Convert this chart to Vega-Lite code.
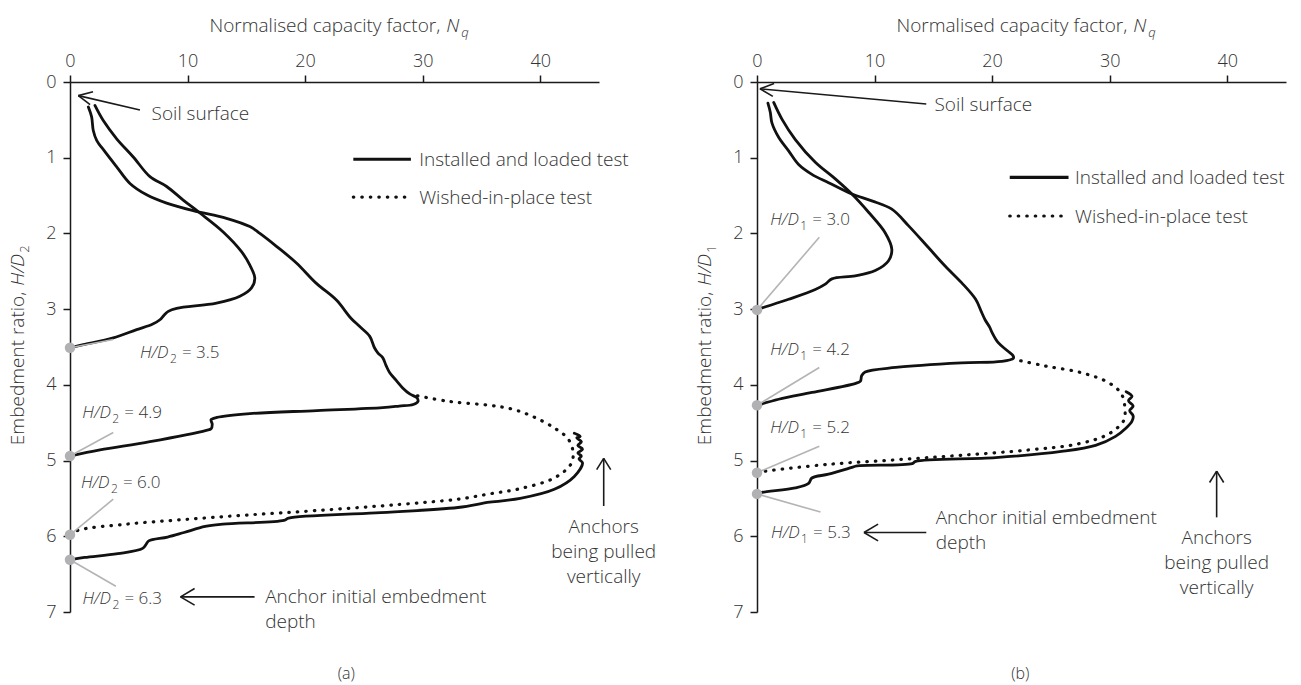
{
  "$schema": "https://vega.github.io/schema/vega-lite/v6.json",
  "background": "white",
  "padding": {"left": 8, "top": 16, "right": 5, "bottom": 5},
  "bounds": "flush",
  "spacing": 158,
  "config": {
    "view": {"stroke": null},
    "font": "Open Sans",
    "text": {"fontWeight": 300},
    "axis": {"labelFont": "Open Sans", "labelFontWeight": 300, "labelFontSize": 18, "labelColor": "#333333", "domainColor": "#1a1a1a", "tickColor": "#1a1a1a", "domainWidth": 1.5, "tickWidth": 1.5, "tickSize": 7, "grid": false, "labelFlush": false, "title": null}
  },
  "datasets": {
    "curves": [
      {"p":"a","s":"a35","d":0,"i":1,"x":0,"y":3.51},{"p":"a","s":"a35","d":0,"i":2,"x":1.13,"y":3.47},{"p":"a","s":"a35","d":0,"i":3,"x":3.68,"y":3.38},{"p":"a","s":"a35","d":0,"i":4,"x":5.67,"y":3.27},{"p":"a","s":"a35","d":0,"i":5,"x":7.0,"y":3.2},{"p":"a","s":"a35","d":0,"i":6,"x":7.65,"y":3.14},{"p":"a","s":"a35","d":0,"i":7,"x":8.0,"y":3.08},{"p":"a","s":"a35","d":0,"i":8,"x":8.36,"y":3.03},{"p":"a","s":"a35","d":0,"i":9,"x":9.07,"y":2.99},{"p":"a","s":"a35","d":0,"i":10,"x":12.46,"y":2.92},{"p":"a","s":"a35","d":0,"i":11,"x":14.45,"y":2.83},{"p":"a","s":"a35","d":0,"i":12,"x":15.44,"y":2.72},{"p":"a","s":"a35","d":0,"i":13,"x":15.72,"y":2.59},{"p":"a","s":"a35","d":0,"i":14,"x":15.3,"y":2.42},{"p":"a","s":"a35","d":0,"i":15,"x":14.59,"y":2.24},{"p":"a","s":"a35","d":0,"i":16,"x":13.03,"y":1.98},{"p":"a","s":"a35","d":0,"i":17,"x":11.05,"y":1.73},{"p":"a","s":"a35","d":0,"i":18,"x":9.63,"y":1.56},{"p":"a","s":"a35","d":0,"i":19,"x":8.22,"y":1.38},{"p":"a","s":"a35","d":0,"i":20,"x":6.8,"y":1.25},{"p":"a","s":"a35","d":0,"i":21,"x":5.38,"y":0.99},{"p":"a","s":"a35","d":0,"i":22,"x":3.97,"y":0.75},{"p":"a","s":"a35","d":0,"i":23,"x":2.83,"y":0.51},{"p":"a","s":"a35","d":0,"i":24,"x":2.12,"y":0.31},
      {"p":"a","s":"a49","d":0,"i":1,"x":0,"y":4.94},{"p":"a","s":"a49","d":0,"i":2,"x":2.55,"y":4.86},{"p":"a","s":"a49","d":0,"i":3,"x":6.8,"y":4.75},{"p":"a","s":"a49","d":0,"i":4,"x":11.6,"y":4.6},{"p":"a","s":"a49","d":0,"i":5,"x":12.0,"y":4.58},{"p":"a","s":"a49","d":0,"i":6,"x":12.1,"y":4.52},{"p":"a","s":"a49","d":0,"i":7,"x":12.0,"y":4.46},{"p":"a","s":"a49","d":0,"i":8,"x":12.5,"y":4.43},{"p":"a","s":"a49","d":0,"i":9,"x":15.3,"y":4.38},{"p":"a","s":"a49","d":0,"i":10,"x":21.0,"y":4.34},{"p":"a","s":"a49","d":0,"i":11,"x":26.6,"y":4.3},{"p":"a","s":"a49","d":0,"i":12,"x":28.0,"y":4.28},{"p":"a","s":"a49","d":0,"i":13,"x":29.2,"y":4.26},{"p":"a","s":"a49","d":0,"i":14,"x":29.6,"y":4.22},{"p":"a","s":"a49","d":0,"i":15,"x":29.5,"y":4.17},{"p":"a","s":"a49","d":0,"i":16,"x":28.9,"y":4.12},{"p":"a","s":"a49","d":0,"i":17,"x":28.3,"y":4.04},{"p":"a","s":"a49","d":0,"i":18,"x":27.8,"y":3.95},{"p":"a","s":"a49","d":0,"i":19,"x":27.2,"y":3.84},{"p":"a","s":"a49","d":0,"i":20,"x":26.9,"y":3.75},{"p":"a","s":"a49","d":0,"i":21,"x":26.6,"y":3.64},{"p":"a","s":"a49","d":0,"i":22,"x":26.2,"y":3.58},{"p":"a","s":"a49","d":0,"i":23,"x":25.9,"y":3.51},{"p":"a","s":"a49","d":0,"i":24,"x":25.5,"y":3.36},{"p":"a","s":"a49","d":0,"i":25,"x":24.65,"y":3.23},{"p":"a","s":"a49","d":0,"i":26,"x":23.9,"y":3.12},{"p":"a","s":"a49","d":0,"i":27,"x":22.66,"y":2.88},{"p":"a","s":"a49","d":0,"i":28,"x":20.96,"y":2.66},{"p":"a","s":"a49","d":0,"i":29,"x":19.26,"y":2.39},{"p":"a","s":"a49","d":0,"i":30,"x":17.56,"y":2.17},{"p":"a","s":"a49","d":0,"i":31,"x":16.15,"y":2.0},{"p":"a","s":"a49","d":0,"i":32,"x":15.3,"y":1.91},{"p":"a","s":"a49","d":0,"i":33,"x":13.31,"y":1.8},{"p":"a","s":"a49","d":0,"i":34,"x":10.48,"y":1.7},{"p":"a","s":"a49","d":0,"i":35,"x":8.22,"y":1.6},{"p":"a","s":"a49","d":0,"i":36,"x":6.52,"y":1.49},{"p":"a","s":"a49","d":0,"i":37,"x":5.1,"y":1.34},{"p":"a","s":"a49","d":0,"i":38,"x":3.97,"y":1.12},{"p":"a","s":"a49","d":0,"i":39,"x":2.97,"y":0.92},{"p":"a","s":"a49","d":0,"i":40,"x":2.27,"y":0.77},{"p":"a","s":"a49","d":0,"i":41,"x":1.98,"y":0.64},{"p":"a","s":"a49","d":0,"i":42,"x":1.84,"y":0.46},{"p":"a","s":"a49","d":0,"i":43,"x":1.56,"y":0.33},
      {"p":"a","s":"a60","d":1,"i":1,"x":0,"y":5.98},{"p":"a","s":"a60","d":1,"i":2,"x":0.7,"y":5.92},{"p":"a","s":"a60","d":1,"i":3,"x":4.8,"y":5.84},{"p":"a","s":"a60","d":1,"i":4,"x":9.6,"y":5.78},{"p":"a","s":"a60","d":1,"i":5,"x":15.0,"y":5.72},{"p":"a","s":"a60","d":1,"i":6,"x":21.0,"y":5.66},{"p":"a","s":"a60","d":1,"i":7,"x":28.0,"y":5.58},{"p":"a","s":"a60","d":1,"i":8,"x":33.0,"y":5.51},{"p":"a","s":"a60","d":1,"i":9,"x":35.7,"y":5.44},{"p":"a","s":"a60","d":1,"i":10,"x":38.3,"y":5.37},{"p":"a","s":"a60","d":1,"i":11,"x":41.2,"y":5.23},{"p":"a","s":"a60","d":1,"i":12,"x":42.6,"y":5.05},{"p":"a","s":"a60","d":1,"i":13,"x":42.8,"y":4.9},{"p":"a","s":"a60","d":1,"i":14,"x":42.4,"y":4.72},{"p":"a","s":"a60","d":1,"i":15,"x":41.2,"y":4.57},{"p":"a","s":"a60","d":1,"i":16,"x":39.4,"y":4.42},{"p":"a","s":"a60","d":1,"i":17,"x":37.6,"y":4.32},{"p":"a","s":"a60","d":1,"i":18,"x":35.7,"y":4.27},{"p":"a","s":"a60","d":1,"i":19,"x":32.3,"y":4.22},{"p":"a","s":"a60","d":1,"i":20,"x":29.4,"y":4.14},
      {"p":"a","s":"a63","d":0,"i":1,"x":0,"y":6.31},{"p":"a","s":"a63","d":0,"i":2,"x":1.24,"y":6.28},{"p":"a","s":"a63","d":0,"i":3,"x":4.06,"y":6.23},{"p":"a","s":"a63","d":0,"i":4,"x":6.18,"y":6.16},{"p":"a","s":"a63","d":0,"i":5,"x":6.5,"y":6.1},{"p":"a","s":"a63","d":0,"i":6,"x":6.7,"y":6.06},{"p":"a","s":"a63","d":0,"i":7,"x":8.3,"y":6.01},{"p":"a","s":"a63","d":0,"i":8,"x":9.7,"y":5.95},{"p":"a","s":"a63","d":0,"i":9,"x":11.5,"y":5.87},{"p":"a","s":"a63","d":0,"i":10,"x":13.0,"y":5.84},{"p":"a","s":"a63","d":0,"i":11,"x":18.2,"y":5.79},{"p":"a","s":"a63","d":0,"i":12,"x":18.6,"y":5.76},{"p":"a","s":"a63","d":0,"i":13,"x":26.0,"y":5.69},{"p":"a","s":"a63","d":0,"i":14,"x":33.0,"y":5.62},{"p":"a","s":"a63","d":0,"i":15,"x":35.7,"y":5.55},{"p":"a","s":"a63","d":0,"i":16,"x":38.3,"y":5.5},{"p":"a","s":"a63","d":0,"i":17,"x":41.2,"y":5.38},{"p":"a","s":"a63","d":0,"i":18,"x":42.9,"y":5.21},{"p":"a","s":"a63","d":0,"i":19,"x":43.6,"y":5.03},{"p":"a","s":"a63","d":0,"i":20,"x":43.3,"y":4.98},{"p":"a","s":"a63","d":0,"i":21,"x":43.5,"y":4.94},{"p":"a","s":"a63","d":0,"i":22,"x":43.2,"y":4.9},{"p":"a","s":"a63","d":0,"i":23,"x":43.6,"y":4.85},{"p":"a","s":"a63","d":0,"i":24,"x":43.2,"y":4.8},{"p":"a","s":"a63","d":0,"i":25,"x":43.5,"y":4.75},{"p":"a","s":"a63","d":0,"i":26,"x":43.1,"y":4.7},{"p":"a","s":"a63","d":0,"i":27,"x":43.4,"y":4.68},{"p":"a","s":"a63","d":0,"i":28,"x":42.9,"y":4.64},
      {"p":"b","s":"b30","d":0,"i":1,"x":0,"y":3.01},{"p":"b","s":"b30","d":0,"i":2,"x":0.14,"y":3.0},{"p":"b","s":"b30","d":0,"i":3,"x":2.69,"y":2.87},{"p":"b","s":"b30","d":0,"i":4,"x":4.96,"y":2.74},{"p":"b","s":"b30","d":0,"i":5,"x":5.81,"y":2.67},{"p":"b","s":"b30","d":0,"i":6,"x":6.37,"y":2.6},{"p":"b","s":"b30","d":0,"i":7,"x":8.36,"y":2.56},{"p":"b","s":"b30","d":0,"i":8,"x":10.06,"y":2.49},{"p":"b","s":"b30","d":0,"i":9,"x":11.19,"y":2.36},{"p":"b","s":"b30","d":0,"i":10,"x":11.47,"y":2.21},{"p":"b","s":"b30","d":0,"i":11,"x":10.9,"y":1.99},{"p":"b","s":"b30","d":0,"i":12,"x":9.49,"y":1.72},{"p":"b","s":"b30","d":0,"i":13,"x":8.07,"y":1.48},{"p":"b","s":"b30","d":0,"i":14,"x":6.66,"y":1.28},{"p":"b","s":"b30","d":0,"i":15,"x":4.96,"y":1.06},{"p":"b","s":"b30","d":0,"i":16,"x":3.26,"y":0.76},{"p":"b","s":"b30","d":0,"i":17,"x":2.12,"y":0.49},{"p":"b","s":"b30","d":0,"i":18,"x":1.42,"y":0.27},
      {"p":"b","s":"b42","d":0,"i":1,"x":0,"y":4.27},{"p":"b","s":"b42","d":0,"i":2,"x":1.84,"y":4.19},{"p":"b","s":"b42","d":0,"i":3,"x":4.67,"y":4.1},{"p":"b","s":"b42","d":0,"i":4,"x":8.4,"y":3.98},{"p":"b","s":"b42","d":0,"i":5,"x":8.8,"y":3.95},{"p":"b","s":"b42","d":0,"i":6,"x":8.9,"y":3.88},{"p":"b","s":"b42","d":0,"i":7,"x":9.2,"y":3.83},{"p":"b","s":"b42","d":0,"i":8,"x":11.8,"y":3.77},{"p":"b","s":"b42","d":0,"i":9,"x":17.4,"y":3.71},{"p":"b","s":"b42","d":0,"i":10,"x":20.8,"y":3.69},{"p":"b","s":"b42","d":0,"i":11,"x":21.8,"y":3.65},{"p":"b","s":"b42","d":0,"i":12,"x":21.8,"y":3.62},{"p":"b","s":"b42","d":0,"i":13,"x":21.3,"y":3.55},{"p":"b","s":"b42","d":0,"i":14,"x":20.5,"y":3.44},{"p":"b","s":"b42","d":0,"i":15,"x":20.0,"y":3.31},{"p":"b","s":"b42","d":0,"i":16,"x":19.8,"y":3.24},{"p":"b","s":"b42","d":0,"i":17,"x":19.4,"y":3.14},{"p":"b","s":"b42","d":0,"i":18,"x":19.1,"y":3.04},{"p":"b","s":"b42","d":0,"i":19,"x":18.6,"y":2.87},{"p":"b","s":"b42","d":0,"i":20,"x":17.4,"y":2.65},{"p":"b","s":"b42","d":0,"i":21,"x":16.0,"y":2.43},{"p":"b","s":"b42","d":0,"i":22,"x":14.6,"y":2.19},{"p":"b","s":"b42","d":0,"i":23,"x":12.9,"y":1.9},{"p":"b","s":"b42","d":0,"i":24,"x":11.47,"y":1.68},{"p":"b","s":"b42","d":0,"i":25,"x":9.77,"y":1.57},{"p":"b","s":"b42","d":0,"i":26,"x":8.07,"y":1.48},{"p":"b","s":"b42","d":0,"i":27,"x":6.09,"y":1.33},{"p":"b","s":"b42","d":0,"i":28,"x":4.67,"y":1.22},{"p":"b","s":"b42","d":0,"i":29,"x":3.54,"y":1.09},{"p":"b","s":"b42","d":0,"i":30,"x":2.69,"y":0.91},{"p":"b","s":"b42","d":0,"i":31,"x":1.84,"y":0.73},{"p":"b","s":"b42","d":0,"i":32,"x":1.27,"y":0.54},{"p":"b","s":"b42","d":0,"i":33,"x":1.13,"y":0.4},{"p":"b","s":"b42","d":0,"i":34,"x":0.93,"y":0.28},
      {"p":"b","s":"b52","d":1,"i":1,"x":0,"y":5.16},{"p":"b","s":"b52","d":1,"i":2,"x":0.7,"y":5.14},{"p":"b","s":"b52","d":1,"i":3,"x":6.1,"y":5.05},{"p":"b","s":"b52","d":1,"i":4,"x":11.8,"y":4.99},{"p":"b","s":"b52","d":1,"i":5,"x":17.4,"y":4.93},{"p":"b","s":"b52","d":1,"i":6,"x":23.1,"y":4.86},{"p":"b","s":"b52","d":1,"i":7,"x":27.3,"y":4.78},{"p":"b","s":"b52","d":1,"i":8,"x":29.9,"y":4.65},{"p":"b","s":"b52","d":1,"i":9,"x":31.2,"y":4.47},{"p":"b","s":"b52","d":1,"i":10,"x":31.3,"y":4.32},{"p":"b","s":"b52","d":1,"i":11,"x":31.0,"y":4.12},{"p":"b","s":"b52","d":1,"i":12,"x":29.9,"y":3.97},{"p":"b","s":"b52","d":1,"i":13,"x":27.6,"y":3.84},{"p":"b","s":"b52","d":1,"i":14,"x":24.5,"y":3.75},{"p":"b","s":"b52","d":1,"i":15,"x":21.8,"y":3.66},
      {"p":"b","s":"b53","d":0,"i":1,"x":0,"y":5.44},{"p":"b","s":"b53","d":0,"i":2,"x":0.42,"y":5.42},{"p":"b","s":"b53","d":0,"i":3,"x":3.26,"y":5.36},{"p":"b","s":"b53","d":0,"i":4,"x":4.39,"y":5.3},{"p":"b","s":"b53","d":0,"i":5,"x":4.67,"y":5.23},{"p":"b","s":"b53","d":0,"i":6,"x":6.09,"y":5.18},{"p":"b","s":"b53","d":0,"i":7,"x":8.07,"y":5.09},{"p":"b","s":"b53","d":0,"i":8,"x":8.5,"y":5.07},{"p":"b","s":"b53","d":0,"i":9,"x":13.2,"y":5.04},{"p":"b","s":"b53","d":0,"i":10,"x":13.5,"y":5.01},{"p":"b","s":"b53","d":0,"i":11,"x":20.3,"y":4.96},{"p":"b","s":"b53","d":0,"i":12,"x":25.9,"y":4.88},{"p":"b","s":"b53","d":0,"i":13,"x":28.8,"y":4.8},{"p":"b","s":"b53","d":0,"i":14,"x":30.5,"y":4.68},{"p":"b","s":"b53","d":0,"i":15,"x":31.4,"y":4.57},{"p":"b","s":"b53","d":0,"i":16,"x":31.9,"y":4.48},{"p":"b","s":"b53","d":0,"i":17,"x":32.0,"y":4.41},{"p":"b","s":"b53","d":0,"i":18,"x":31.7,"y":4.34},{"p":"b","s":"b53","d":0,"i":19,"x":32.0,"y":4.28},{"p":"b","s":"b53","d":0,"i":20,"x":31.6,"y":4.21},{"p":"b","s":"b53","d":0,"i":21,"x":31.9,"y":4.15},{"p":"b","s":"b53","d":0,"i":22,"x":31.4,"y":4.09}
    ],
    "dots": [
      {"p":"a","x":0,"y":3.51},{"p":"a","x":0,"y":4.94},{"p":"a","x":0,"y":5.98},{"p":"a","x":0,"y":6.31},
      {"p":"b","x":0,"y":3.01},{"p":"b","x":0,"y":4.27},{"p":"b","x":0,"y":5.16},{"p":"b","x":0,"y":5.44}
    ],
    "leaders": [
      {"p":"a","x":0,"y":3.51,"x2":3.68,"y2":3.4},{"p":"a","x":0,"y":4.94,"x2":3.68,"y2":4.63},{"p":"a","x":0,"y":5.98,"x2":3.68,"y2":5.51},{"p":"a","x":0,"y":6.31,"x2":3.9,"y2":6.66},
      {"p":"b","x":0,"y":3.01,"x2":5.3,"y2":2.05},{"p":"b","x":0,"y":4.27,"x2":5.3,"y2":3.77},{"p":"b","x":0,"y":5.16,"x2":5.3,"y2":4.81},{"p":"b","x":0,"y":5.44,"x2":5.4,"y2":5.68}
    ],
    "arrows": [
      {"p":"a","x":0.71,"y":0.18,"x2":5.95,"y2":0.37},{"p":"a","x":0.71,"y":0.18,"x2":1.96,"y2":0.13},{"p":"a","x":0.71,"y":0.18,"x2":1.71,"y2":0.3},
      {"p":"a","x":15.7,"y":6.8,"x2":9.4,"y2":6.8},{"p":"a","x":9.4,"y":6.8,"x2":10.6,"y2":6.69},{"p":"a","x":9.4,"y":6.8,"x2":10.6,"y2":6.91},
      {"p":"a","x":45.4,"y":5.6,"x2":45.4,"y2":4.97},{"p":"a","x":45.4,"y":4.97,"x2":44.8,"y2":5.12},{"p":"a","x":45.4,"y":4.97,"x2":46.0,"y2":5.12},
      {"p":"b","x":0.25,"y":0.09,"x2":14.4,"y2":0.29},{"p":"b","x":0.25,"y":0.09,"x2":1.45,"y2":0.02},{"p":"b","x":0.25,"y":0.09,"x2":1.35,"y2":0.19},
      {"p":"b","x":14.4,"y":5.95,"x2":9.1,"y2":5.95},{"p":"b","x":9.1,"y":5.95,"x2":10.3,"y2":5.84},{"p":"b","x":9.1,"y":5.95,"x2":10.3,"y2":6.06},
      {"p":"b","x":39.1,"y":5.75,"x2":39.1,"y2":5.14},{"p":"b","x":39.1,"y":5.14,"x2":38.5,"y2":5.29},{"p":"b","x":39.1,"y":5.14,"x2":39.7,"y2":5.29}
    ],
    "legend": [
      {"p":"a","d":0,"x":24.1,"x2":29.0,"y":1.02},{"p":"a","d":1,"x":24.1,"x2":28.6,"y":1.52},
      {"p":"b","d":0,"x":21.5,"x2":26.5,"y":1.26},{"p":"b","d":1,"x":21.5,"x2":25.9,"y":1.77}
    ],
    "notes": [
      {"p":"a","a":"left","x":6.94,"y":0.505,"t":"Soil surface"},
      {"p":"a","a":"left","x":29.7,"y":1.107,"t":"Installed and loaded test"},
      {"p":"a","a":"left","x":29.7,"y":1.61,"t":"Wished-in-place test"},
      {"p":"a","a":"left","x":16.6,"y":6.88,"t":"Anchor initial embedment\ndepth"},
      {"p":"a","a":"center","x":45.4,"y":5.96,"t":"Anchors\nbeing pulled\nvertically"},
      {"p":"b","a":"left","x":15.1,"y":0.38,"t":"Soil surface"},
      {"p":"b","a":"left","x":27.05,"y":1.35,"t":"Installed and loaded test"},
      {"p":"b","a":"left","x":27.05,"y":1.86,"t":"Wished-in-place test"},
      {"p":"b","a":"left","x":15.2,"y":5.84,"t":"Anchor initial embedment\ndepth"},
      {"p":"b","a":"center","x":39.1,"y":6.1,"t":"Anchors\nbeing pulled\nvertically"}
    ],
    "tags": [
      {"p":"a","x":23.5,"y":7.82,"t":"(a)"},
      {"p":"b","x":22.4,"y":7.82,"t":"(b)"}
    ],
    "labels": [
      {"p":"a","x":5.95,"y":3.65,"sub":"2","v":"= 3.5"},
      {"p":"a","x":1.05,"y":4.44,"sub":"2","v":"= 4.9"},
      {"p":"a","x":0.93,"y":5.36,"sub":"2","v":"= 6.0"},
      {"p":"a","x":1.06,"y":6.9,"sub":"2","v":"= 6.3"},
      {"p":"b","x":1.13,"y":1.89,"sub":"1","v":"= 3.0"},
      {"p":"b","x":1.13,"y":3.61,"sub":"1","v":"= 4.2"},
      {"p":"b","x":1.13,"y":4.64,"sub":"1","v":"= 5.2"},
      {"p":"b","x":1.2,"y":6.02,"sub":"1","v":"= 5.3"}
    ],
    "xtitle": [
      {"p":"a","x":31.5,"y":-0.665},
      {"p":"b","x":31.5,"y":-0.665}
    ],
    "ytitle": [
      {"p":"a","x":-3.95,"y":2.77,"sub":"2"},
      {"p":"b","x":-3.95,"y":2.77,"sub":"1"}
    ]
  },
  "hconcat": [
    {
      "width": 529, "height": 530,
      "encoding": {
        "x": {"field": "x", "type": "quantitative", "scale": {"domain": [0, 45], "nice": false, "zero": false}, "axis": {"orient": "top", "values": [0, 10, 20, 30, 40], "labelPadding": 5, "title": null}},
        "y": {"field": "y", "type": "quantitative", "scale": {"domain": [0, 7], "reverse": true, "nice": false, "zero": false}, "axis": {"values": [0, 1, 2, 3, 4, 5, 6, 7], "labelPadding": 7, "title": null}}
      },
      "layer": [
        {"data": {"name": "curves"}, "transform": [{"filter": "datum.p == 'a' && datum.d == 0"}], "mark": {"type": "line", "color": "#111111", "strokeWidth": 2.8, "strokeJoin": "round", "strokeCap": "round", "interpolate": "catmull-rom"}, "encoding": {"detail": {"field": "s", "type": "nominal"}, "order": {"field": "i", "type": "quantitative"}}},
        {"data": {"name": "curves"}, "transform": [{"filter": "datum.p == 'a' && datum.d == 1"}], "mark": {"type": "line", "color": "#111111", "strokeWidth": 3.2, "strokeDash": [0.5, 8], "strokeCap": "round", "interpolate": "catmull-rom"}, "encoding": {"detail": {"field": "s", "type": "nominal"}, "order": {"field": "i", "type": "quantitative"}}},
        {"data": {"name": "leaders"}, "transform": [{"filter": "datum.p == 'a'"}], "mark": {"type": "rule", "color": "#b4b4b4", "strokeWidth": 1.6}, "encoding": {"x2": {"field": "x2"}, "y2": {"field": "y2"}}},
        {"data": {"name": "dots"}, "transform": [{"filter": "datum.p == 'a'"}], "mark": {"type": "point", "filled": true, "color": "#b1b1b4", "opacity": 1, "size": 110}},
        {"data": {"name": "arrows"}, "transform": [{"filter": "datum.p == 'a'"}], "mark": {"type": "rule", "color": "#1a1a1a", "strokeWidth": 1.6}, "encoding": {"x2": {"field": "x2"}, "y2": {"field": "y2"}}},
        {"data": {"name": "legend"}, "transform": [{"filter": "datum.p == 'a' && datum.d == 0"}], "mark": {"type": "rule", "color": "#111111", "strokeWidth": 3.2}, "encoding": {"x2": {"field": "x2"}}},
        {"data": {"name": "legend"}, "transform": [{"filter": "datum.p == 'a' && datum.d == 1"}], "mark": {"type": "rule", "color": "#111111", "strokeWidth": 3.2, "strokeDash": [0.5, 8], "strokeCap": "round"}, "encoding": {"x2": {"field": "x2"}}},
        {"data": {"name": "notes"}, "transform": [{"filter": "datum.p == 'a' && datum.a == 'left'"}], "mark": {"type": "text", "align": "left", "baseline": "alphabetic", "fontSize": 19, "color": "#333333", "lineBreak": "\n", "lineHeight": 25}, "encoding": {"text": {"field": "t"}}},
        {"data": {"name": "notes"}, "transform": [{"filter": "datum.p == 'a' && datum.a == 'center'"}], "mark": {"type": "text", "align": "center", "baseline": "alphabetic", "fontSize": 19, "color": "#333333", "lineBreak": "\n", "lineHeight": 25}, "encoding": {"text": {"field": "t"}}},
        {"data": {"name": "tags"}, "transform": [{"filter": "datum.p == 'a'"}], "mark": {"type": "text", "align": "center", "baseline": "middle", "fontSize": 16, "color": "#333333"}, "encoding": {"text": {"field": "t"}}},
        {"data": {"name": "labels"}, "transform": [{"filter": "datum.p == 'a'"}], "mark": {"type": "text", "align": "left", "baseline": "alphabetic", "fontSize": 17, "fontStyle": "italic", "color": "#333333"}, "encoding": {"text": {"value": "H/D"}}},
        {"data": {"name": "labels"}, "transform": [{"filter": "datum.p == 'a'"}], "mark": {"type": "text", "align": "left", "baseline": "alphabetic", "fontSize": 12, "dx": 30, "dy": 5, "color": "#333333"}, "encoding": {"text": {"field": "sub"}}},
        {"data": {"name": "labels"}, "transform": [{"filter": "datum.p == 'a'"}], "mark": {"type": "text", "align": "left", "baseline": "alphabetic", "fontSize": 17, "dx": 42, "color": "#333333"}, "encoding": {"text": {"field": "v"}}},
        {"data": {"name": "xtitle"}, "transform": [{"filter": "datum.p == 'a'"}], "mark": {"type": "text", "align": "right", "baseline": "alphabetic", "fontSize": 19, "color": "#333333"}, "encoding": {"text": {"value": "Normalised capacity factor,"}}},
        {"data": {"name": "xtitle"}, "transform": [{"filter": "datum.p == 'a'"}], "mark": {"type": "text", "align": "left", "baseline": "alphabetic", "fontSize": 19, "fontStyle": "italic", "dx": 6, "color": "#333333"}, "encoding": {"text": {"value": "N"}}},
        {"data": {"name": "xtitle"}, "transform": [{"filter": "datum.p == 'a'"}], "mark": {"type": "text", "align": "left", "baseline": "alphabetic", "fontSize": 13, "fontStyle": "italic", "dx": 21, "dy": 5, "color": "#333333"}, "encoding": {"text": {"value": "q"}}},
        {"data": {"name": "ytitle"}, "transform": [{"filter": "datum.p == 'a'"}], "mark": {"type": "text", "angle": 270, "align": "right", "baseline": "alphabetic", "fontSize": 19, "color": "#333333"}, "encoding": {"text": {"value": "Embedment ratio,"}}},
        {"data": {"name": "ytitle"}, "transform": [{"filter": "datum.p == 'a'"}], "mark": {"type": "text", "angle": 270, "align": "left", "baseline": "alphabetic", "fontSize": 19, "fontStyle": "italic", "dx": 6, "color": "#333333"}, "encoding": {"text": {"value": "H/D"}}},
        {"data": {"name": "ytitle"}, "transform": [{"filter": "datum.p == 'a'"}], "mark": {"type": "text", "angle": 270, "align": "left", "baseline": "alphabetic", "fontSize": 13, "dx": 39, "dy": 5, "color": "#333333"}, "encoding": {"text": {"field": "sub"}}}
      ]
    },
    {
      "width": 529, "height": 530,
      "encoding": {
        "x": {"field": "x", "type": "quantitative", "scale": {"domain": [0, 45], "nice": false, "zero": false}, "axis": {"orient": "top", "values": [0, 10, 20, 30, 40], "labelPadding": 5, "title": null}},
        "y": {"field": "y", "type": "quantitative", "scale": {"domain": [0, 7], "reverse": true, "nice": false, "zero": false}, "axis": {"values": [0, 1, 2, 3, 4, 5, 6, 7], "labelPadding": 7, "title": null}}
      },
      "layer": [
        {"data": {"name": "curves"}, "transform": [{"filter": "datum.p == 'b' && datum.d == 0"}], "mark": {"type": "line", "color": "#111111", "strokeWidth": 2.8, "strokeJoin": "round", "strokeCap": "round", "interpolate": "catmull-rom"}, "encoding": {"detail": {"field": "s", "type": "nominal"}, "order": {"field": "i", "type": "quantitative"}}},
        {"data": {"name": "curves"}, "transform": [{"filter": "datum.p == 'b' && datum.d == 1"}], "mark": {"type": "line", "color": "#111111", "strokeWidth": 3.2, "strokeDash": [0.5, 8], "strokeCap": "round", "interpolate": "catmull-rom"}, "encoding": {"detail": {"field": "s", "type": "nominal"}, "order": {"field": "i", "type": "quantitative"}}},
        {"data": {"name": "leaders"}, "transform": [{"filter": "datum.p == 'b'"}], "mark": {"type": "rule", "color": "#b4b4b4", "strokeWidth": 1.6}, "encoding": {"x2": {"field": "x2"}, "y2": {"field": "y2"}}},
        {"data": {"name": "dots"}, "transform": [{"filter": "datum.p == 'b'"}], "mark": {"type": "point", "filled": true, "color": "#b1b1b4", "opacity": 1, "size": 110}},
        {"data": {"name": "arrows"}, "transform": [{"filter": "datum.p == 'b'"}], "mark": {"type": "rule", "color": "#1a1a1a", "strokeWidth": 1.6}, "encoding": {"x2": {"field": "x2"}, "y2": {"field": "y2"}}},
        {"data": {"name": "legend"}, "transform": [{"filter": "datum.p == 'b' && datum.d == 0"}], "mark": {"type": "rule", "color": "#111111", "strokeWidth": 3.2}, "encoding": {"x2": {"field": "x2"}}},
        {"data": {"name": "legend"}, "transform": [{"filter": "datum.p == 'b' && datum.d == 1"}], "mark": {"type": "rule", "color": "#111111", "strokeWidth": 3.2, "strokeDash": [0.5, 8], "strokeCap": "round"}, "encoding": {"x2": {"field": "x2"}}},
        {"data": {"name": "notes"}, "transform": [{"filter": "datum.p == 'b' && datum.a == 'left'"}], "mark": {"type": "text", "align": "left", "baseline": "alphabetic", "fontSize": 19, "color": "#333333", "lineBreak": "\n", "lineHeight": 25}, "encoding": {"text": {"field": "t"}}},
        {"data": {"name": "notes"}, "transform": [{"filter": "datum.p == 'b' && datum.a == 'center'"}], "mark": {"type": "text", "align": "center", "baseline": "alphabetic", "fontSize": 19, "color": "#333333", "lineBreak": "\n", "lineHeight": 25}, "encoding": {"text": {"field": "t"}}},
        {"data": {"name": "tags"}, "transform": [{"filter": "datum.p == 'b'"}], "mark": {"type": "text", "align": "center", "baseline": "middle", "fontSize": 16, "color": "#333333"}, "encoding": {"text": {"field": "t"}}},
        {"data": {"name": "labels"}, "transform": [{"filter": "datum.p == 'b'"}], "mark": {"type": "text", "align": "left", "baseline": "alphabetic", "fontSize": 17, "fontStyle": "italic", "color": "#333333"}, "encoding": {"text": {"value": "H/D"}}},
        {"data": {"name": "labels"}, "transform": [{"filter": "datum.p == 'b'"}], "mark": {"type": "text", "align": "left", "baseline": "alphabetic", "fontSize": 12, "dx": 30, "dy": 5, "color": "#333333"}, "encoding": {"text": {"field": "sub"}}},
        {"data": {"name": "labels"}, "transform": [{"filter": "datum.p == 'b'"}], "mark": {"type": "text", "align": "left", "baseline": "alphabetic", "fontSize": 17, "dx": 42, "color": "#333333"}, "encoding": {"text": {"field": "v"}}},
        {"data": {"name": "xtitle"}, "transform": [{"filter": "datum.p == 'b'"}], "mark": {"type": "text", "align": "right", "baseline": "alphabetic", "fontSize": 19, "color": "#333333"}, "encoding": {"text": {"value": "Normalised capacity factor,"}}},
        {"data": {"name": "xtitle"}, "transform": [{"filter": "datum.p == 'b'"}], "mark": {"type": "text", "align": "left", "baseline": "alphabetic", "fontSize": 19, "fontStyle": "italic", "dx": 6, "color": "#333333"}, "encoding": {"text": {"value": "N"}}},
        {"data": {"name": "xtitle"}, "transform": [{"filter": "datum.p == 'b'"}], "mark": {"type": "text", "align": "left", "baseline": "alphabetic", "fontSize": 13, "fontStyle": "italic", "dx": 21, "dy": 5, "color": "#333333"}, "encoding": {"text": {"value": "q"}}},
        {"data": {"name": "ytitle"}, "transform": [{"filter": "datum.p == 'b'"}], "mark": {"type": "text", "angle": 270, "align": "right", "baseline": "alphabetic", "fontSize": 19, "color": "#333333"}, "encoding": {"text": {"value": "Embedment ratio,"}}},
        {"data": {"name": "ytitle"}, "transform": [{"filter": "datum.p == 'b'"}], "mark": {"type": "text", "angle": 270, "align": "left", "baseline": "alphabetic", "fontSize": 19, "fontStyle": "italic", "dx": 6, "color": "#333333"}, "encoding": {"text": {"value": "H/D"}}},
        {"data": {"name": "ytitle"}, "transform": [{"filter": "datum.p == 'b'"}], "mark": {"type": "text", "angle": 270, "align": "left", "baseline": "alphabetic", "fontSize": 13, "dx": 39, "dy": 5, "color": "#333333"}, "encoding": {"text": {"field": "sub"}}}
      ]
    }
  ]
}
